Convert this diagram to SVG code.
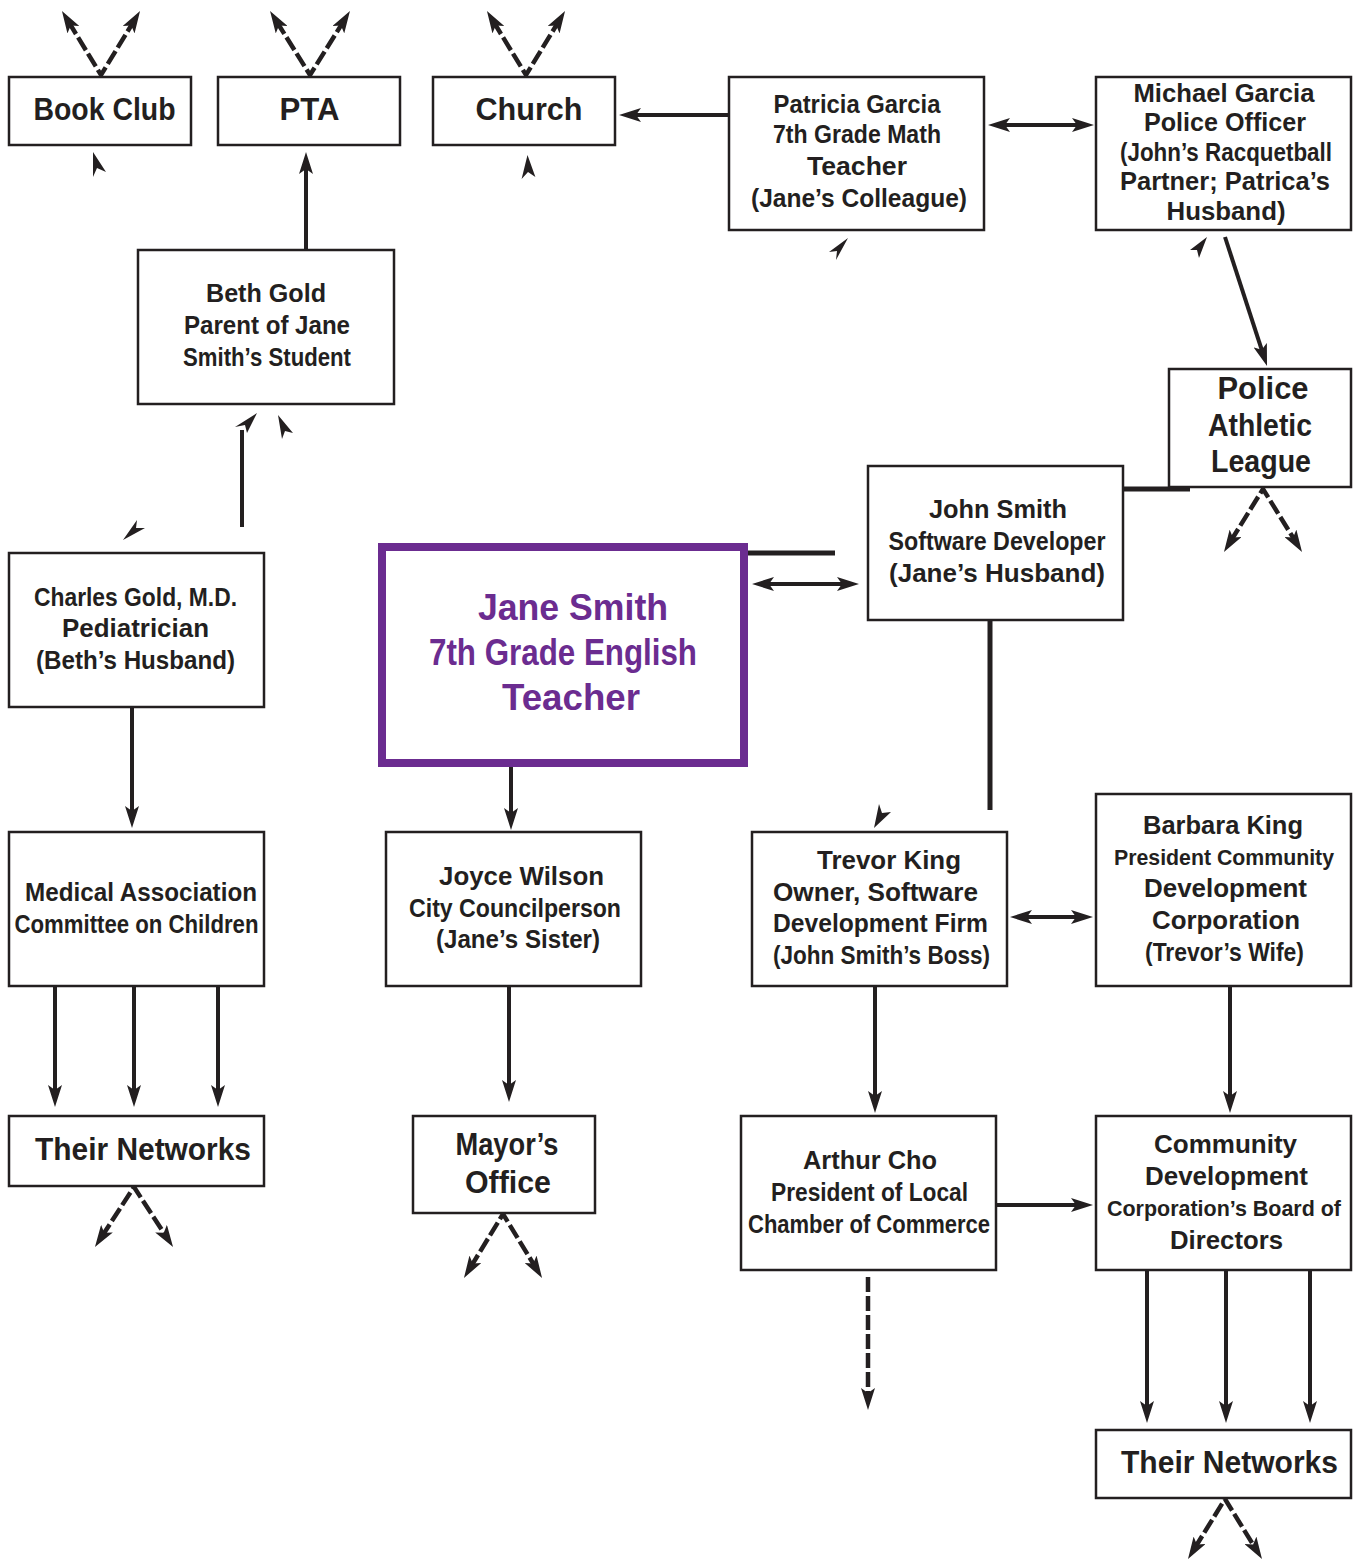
<svg xmlns="http://www.w3.org/2000/svg" width="1366" height="1561" viewBox="0 0 1366 1561">
<style>
.box{fill:#fff;stroke:#231F20;stroke-width:2.5}
.jane{fill:#fff;stroke:#6B2C90;stroke-width:8}
text{font-family:"Liberation Sans",Arial,sans-serif;font-weight:bold;fill:#231F20;text-anchor:middle}
.m{font-size:25px}
.s{font-size:22px}
.l{font-size:31px}
.j{font-size:37px;fill:#6B2C90}
.c{stroke:#231F20;stroke-width:4;fill:none}
.w{stroke:#231F20;stroke-width:5;fill:none}
.d{stroke:#231F20;stroke-width:4.5;fill:none;stroke-dasharray:15 4;stroke-linejoin:miter}
.h{fill:#231F20}
</style>
<defs>
<marker id="a" markerUnits="userSpaceOnUse" markerWidth="24" markerHeight="14" refX="10" refY="7" orient="auto-start-reverse" viewBox="0 0 24 14">
<path d="M0,0 L22,7 L0,14 L5,7 z" fill="#231F20"/>
</marker>
</defs>

<g id="connectors">
<path class="d" d="M68.2,21.2 L101,75 L133.8,21.2" marker-start="url(#a)" marker-end="url(#a)"/>
<path class="d" d="M276.4,21.2 L310,75 L343.6,21.2" marker-start="url(#a)" marker-end="url(#a)"/>
<path class="d" d="M493.2,21.2 L526,75 L558.8,21.2" marker-start="url(#a)" marker-end="url(#a)"/>
<path class="d" d="M1230.3,541.8 L1263,489 L1295.7,541.8" marker-start="url(#a)" marker-end="url(#a)"/>
<path class="d" d="M101.5,1237 L134,1187 L166.5,1237" marker-start="url(#a)" marker-end="url(#a)"/>
<path class="d" d="M470.2,1267.8 L503,1214 L535.8,1267.8" marker-start="url(#a)" marker-end="url(#a)"/>
<path class="d" d="M1194.3,1548.8 L1225,1499 L1255.7,1548.8" marker-start="url(#a)" marker-end="url(#a)"/>
<path class="d" d="M868,1277 L868,1398" marker-end="url(#a)"/>

<path class="c" d="M306,250 L306,164" marker-end="url(#a)"/>
<path class="c" d="M729,115 L631,115" marker-end="url(#a)"/>
<path class="c" d="M1000,125 L1082,125" marker-start="url(#a)" marker-end="url(#a)"/>
<path class="c" d="M1225,237 L1263.3,354.6" marker-end="url(#a)"/>
<path class="w" d="M1123,489 L1190,489"/>
<path class="w" d="M747,553 L835,553"/>
<path class="c" d="M764,584 L847,584" marker-start="url(#a)" marker-end="url(#a)"/>
<path class="w" d="M990,620 L990,810"/>
<path class="c" d="M242,527 L242,430"/>
<path class="c" d="M132,707 L132,816" marker-end="url(#a)"/>
<path class="c" d="M55,986 L55,1095" marker-end="url(#a)"/>
<path class="c" d="M134,986 L134,1095" marker-end="url(#a)"/>
<path class="c" d="M218,986 L218,1095" marker-end="url(#a)"/>
<path class="c" d="M511,767 L511,818" marker-end="url(#a)"/>
<path class="c" d="M509,986 L509,1090" marker-end="url(#a)"/>
<path class="c" d="M1022,917 L1081,917" marker-start="url(#a)" marker-end="url(#a)"/>
<path class="c" d="M875,986 L875,1101" marker-end="url(#a)"/>
<path class="c" d="M1230,986 L1230,1101" marker-end="url(#a)"/>
<path class="c" d="M996,1205 L1081,1205" marker-end="url(#a)"/>
<path class="c" d="M1147,1270 L1147,1411" marker-end="url(#a)"/>
<path class="c" d="M1226,1270 L1226,1411" marker-end="url(#a)"/>
<path class="c" d="M1310,1270 L1310,1411" marker-end="url(#a)"/>

<polygon class="h" points="93,152 106,172 97,168 93,177"/>
<polygon class="h" points="527.5,155 535.4,177 528,172 521.6,179"/>
<polygon class="h" points="848,238 836,260 837,251 829,252"/>
<polygon class="h" points="1207,237 1199,258 1197,250 1190,250"/>
<polygon class="h" points="257,413 247,433 245,425 235,427"/>
<polygon class="h" points="278,415 293,433 285,431 282,439"/>
<polygon class="h" points="123,540 137,520 136,528 145,528"/>
<polygon class="h" points="874,828 879,804 882,813 891,812"/>
</g>

<g id="book-club"><rect class="box" x="9" y="77" width="182" height="68"/>
<text class="l" x="104.5" y="120" textLength="142" lengthAdjust="spacingAndGlyphs">Book Club</text></g>
<g id="pta"><rect class="box" x="218" y="77" width="182" height="68"/>
<text class="l" x="309.5" y="120" textLength="60" lengthAdjust="spacingAndGlyphs">PTA</text></g>
<g id="church"><rect class="box" x="433" y="77" width="182" height="68"/>
<text class="l" x="529" y="120" textLength="107" lengthAdjust="spacingAndGlyphs">Church</text></g>

<g id="patricia"><rect class="box" x="729" y="77" width="255" height="153"/>
<text class="m" x="857" y="113" textLength="167" lengthAdjust="spacingAndGlyphs">Patricia Garcia</text>
<text class="m" x="857" y="143" textLength="168" lengthAdjust="spacingAndGlyphs">7th Grade Math</text>
<text class="m" x="857" y="175" textLength="100" lengthAdjust="spacingAndGlyphs">Teacher</text>
<text class="m" x="859" y="207" textLength="216" lengthAdjust="spacingAndGlyphs">(Jane’s Colleague)</text></g>

<g id="michael"><rect class="box" x="1096" y="77" width="255" height="153"/>
<text class="m" x="1224" y="102" textLength="181" lengthAdjust="spacingAndGlyphs">Michael Garcia</text>
<text class="m" x="1225" y="131" textLength="162" lengthAdjust="spacingAndGlyphs">Police Officer</text>
<text class="m" x="1226" y="161" textLength="212" lengthAdjust="spacingAndGlyphs">(John’s Racquetball</text>
<text class="m" x="1225" y="190" textLength="210" lengthAdjust="spacingAndGlyphs">Partner; Patrica’s</text>
<text class="m" x="1226" y="220" textLength="119" lengthAdjust="spacingAndGlyphs">Husband)</text></g>

<g id="beth"><rect class="box" x="138" y="250" width="256" height="154"/>
<text class="m" x="266" y="302" textLength="120" lengthAdjust="spacingAndGlyphs">Beth Gold</text>
<text class="m" x="267" y="334" textLength="166" lengthAdjust="spacingAndGlyphs">Parent of Jane</text>
<text class="m" x="267" y="366" textLength="168" lengthAdjust="spacingAndGlyphs">Smith’s Student</text></g>

<g id="pal"><rect class="box" x="1169" y="369" width="182" height="118"/>
<text class="l" x="1263" y="399" textLength="91" lengthAdjust="spacingAndGlyphs">Police</text>
<text class="l" x="1260" y="436" textLength="104" lengthAdjust="spacingAndGlyphs">Athletic</text>
<text class="l" x="1261" y="472" textLength="100" lengthAdjust="spacingAndGlyphs">League</text></g>

<g id="john"><rect class="box" x="868" y="466" width="255" height="154"/>
<text class="m" x="998" y="518" textLength="138" lengthAdjust="spacingAndGlyphs">John Smith</text>
<text class="m" x="997" y="550" textLength="217" lengthAdjust="spacingAndGlyphs">Software Developer</text>
<text class="m" x="997" y="582" textLength="216" lengthAdjust="spacingAndGlyphs">(Jane’s Husband)</text></g>

<g id="jane"><rect class="jane" x="382" y="547" width="362" height="216"/>
<text class="j" x="573" y="620" textLength="190" lengthAdjust="spacingAndGlyphs">Jane Smith</text>
<text class="j" x="563" y="665" textLength="268" lengthAdjust="spacingAndGlyphs">7th Grade English</text>
<text class="j" x="571" y="710" textLength="138" lengthAdjust="spacingAndGlyphs">Teacher</text></g>

<g id="charles"><rect class="box" x="9" y="553" width="255" height="154"/>
<text class="m" x="135.5" y="606" textLength="203" lengthAdjust="spacingAndGlyphs">Charles Gold, M.D.</text>
<text class="m" x="135.5" y="637" textLength="147" lengthAdjust="spacingAndGlyphs">Pediatrician</text>
<text class="m" x="135.5" y="669" textLength="199" lengthAdjust="spacingAndGlyphs">(Beth’s Husband)</text></g>

<g id="medical"><rect class="box" x="9" y="832" width="255" height="154"/>
<text class="m" x="141" y="901" textLength="232" lengthAdjust="spacingAndGlyphs">Medical Association</text>
<text class="m" x="136.5" y="933" textLength="244" lengthAdjust="spacingAndGlyphs">Committee on Children</text></g>

<g id="joyce"><rect class="box" x="386" y="832" width="255" height="154"/>
<text class="m" x="521.5" y="885" textLength="165" lengthAdjust="spacingAndGlyphs">Joyce Wilson</text>
<text class="m" x="515" y="917" textLength="212" lengthAdjust="spacingAndGlyphs">City Councilperson</text>
<text class="m" x="518" y="948" textLength="164" lengthAdjust="spacingAndGlyphs">(Jane’s Sister)</text></g>

<g id="trevor"><rect class="box" x="752" y="832" width="255" height="154"/>
<text class="m" x="889" y="869" textLength="144" lengthAdjust="spacingAndGlyphs">Trevor King</text>
<text class="m" x="875.5" y="901" textLength="205" lengthAdjust="spacingAndGlyphs">Owner, Software</text>
<text class="m" x="880.5" y="932" textLength="215" lengthAdjust="spacingAndGlyphs">Development Firm</text>
<text class="m" x="881.5" y="964" textLength="217" lengthAdjust="spacingAndGlyphs">(John Smith’s Boss)</text></g>

<g id="barbara"><rect class="box" x="1096" y="794" width="255" height="192"/>
<text class="m" x="1223" y="834" textLength="160" lengthAdjust="spacingAndGlyphs">Barbara King</text>
<text class="s" x="1224" y="865" textLength="220" lengthAdjust="spacingAndGlyphs">President Community</text>
<text class="m" x="1225.5" y="897" textLength="163" lengthAdjust="spacingAndGlyphs">Development</text>
<text class="m" x="1226" y="929" textLength="148" lengthAdjust="spacingAndGlyphs">Corporation</text>
<text class="m" x="1224.5" y="961" textLength="159" lengthAdjust="spacingAndGlyphs">(Trevor’s Wife)</text></g>

<g id="networks-left"><rect class="box" x="9" y="1116" width="255" height="70"/>
<text class="l" x="143" y="1160" textLength="216" lengthAdjust="spacingAndGlyphs">Their Networks</text></g>

<g id="mayor"><rect class="box" x="413" y="1116" width="182" height="97"/>
<text class="l" x="507" y="1155" textLength="103" lengthAdjust="spacingAndGlyphs">Mayor’s</text>
<text class="l" x="508" y="1193" textLength="86" lengthAdjust="spacingAndGlyphs">Office</text></g>

<g id="arthur"><rect class="box" x="741" y="1116" width="255" height="154"/>
<text class="m" x="870" y="1169" textLength="134" lengthAdjust="spacingAndGlyphs">Arthur Cho</text>
<text class="m" x="869.5" y="1201" textLength="197" lengthAdjust="spacingAndGlyphs">President of Local</text>
<text class="m" x="869" y="1233" textLength="242" lengthAdjust="spacingAndGlyphs">Chamber of Commerce</text></g>

<g id="board"><rect class="box" x="1096" y="1116" width="255" height="154"/>
<text class="m" x="1225.5" y="1153" textLength="143" lengthAdjust="spacingAndGlyphs">Community</text>
<text class="m" x="1226.5" y="1185" textLength="163" lengthAdjust="spacingAndGlyphs">Development</text>
<text class="s" x="1224" y="1216" textLength="234" lengthAdjust="spacingAndGlyphs">Corporation’s Board of</text>
<text class="m" x="1226.5" y="1249" textLength="113" lengthAdjust="spacingAndGlyphs">Directors</text></g>

<g id="networks-right"><rect class="box" x="1096" y="1430" width="255" height="68"/>
<text class="l" x="1229.5" y="1473" textLength="217" lengthAdjust="spacingAndGlyphs">Their Networks</text></g>
</svg>
